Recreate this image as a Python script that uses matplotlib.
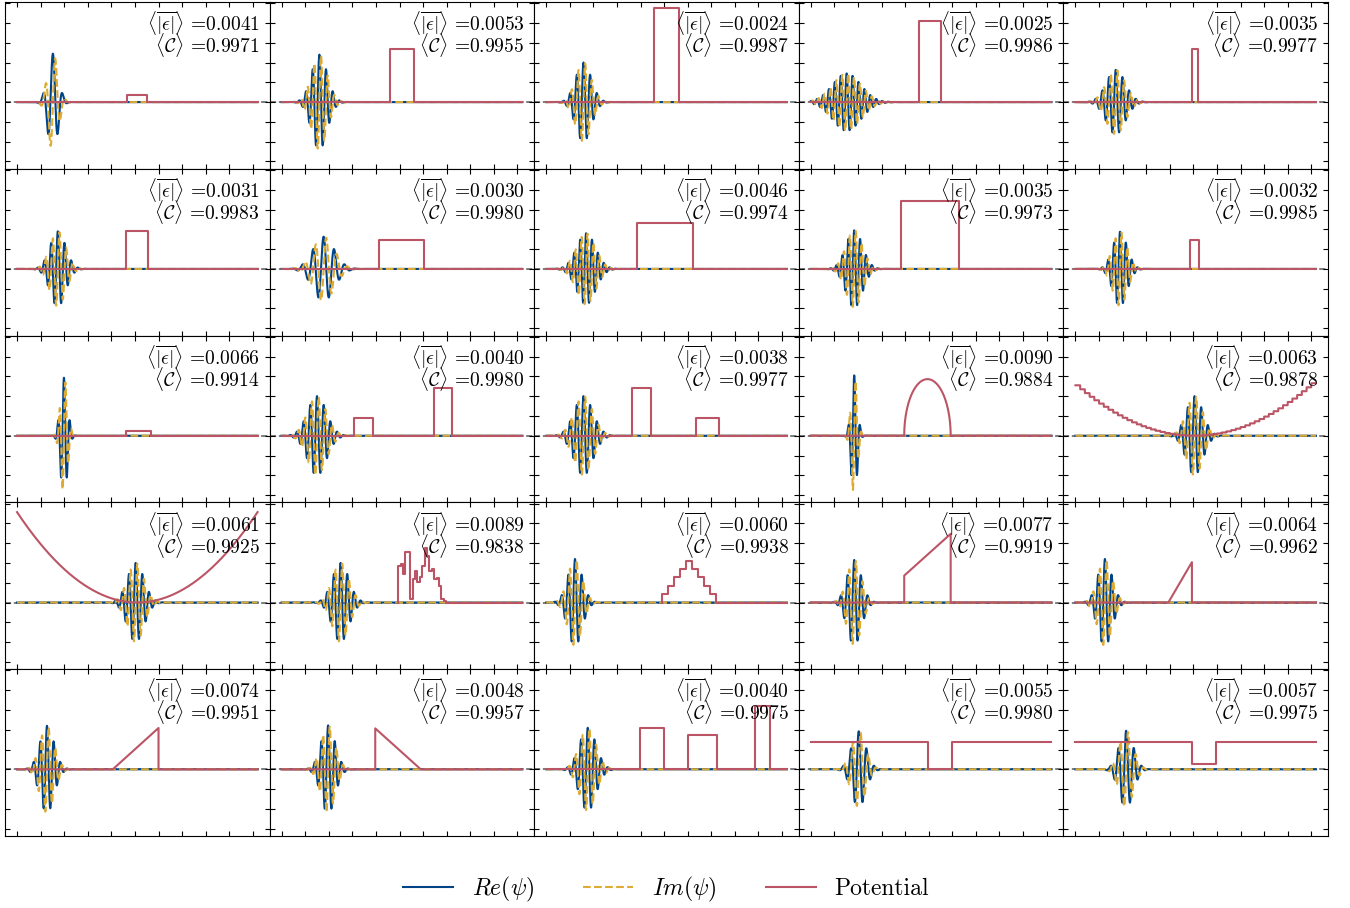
import numpy as np
import matplotlib.pyplot as plt
from matplotlib.ticker import MultipleLocator
from matplotlib.lines import Line2D

plt.rcParams['mathtext.fontset'] = 'cm'
plt.rcParams['font.family'] = 'cmr10'
plt.rcParams['axes.formatter.use_mathtext'] = True

L = 10.2  # domain length

# annotation values, row by row
eps_mean = [0.0041, 0.0053, 0.0024, 0.0025, 0.0035,
            0.0031, 0.0030, 0.0046, 0.0035, 0.0032,
            0.0066, 0.0040, 0.0038, 0.0090, 0.0063,
            0.0061, 0.0089, 0.0060, 0.0077, 0.0064,
            0.0074, 0.0048, 0.0040, 0.0055, 0.0057]
corr_mean = [0.9971, 0.9955, 0.9987, 0.9986, 0.9977,
             0.9983, 0.9980, 0.9974, 0.9973, 0.9985,
             0.9914, 0.9980, 0.9977, 0.9884, 0.9878,
             0.9925, 0.9838, 0.9938, 0.9919, 0.9962,
             0.9951, 0.9957, 0.9975, 0.9980, 0.9975]

# wave packet: centre, width, wavenumber, amplitude
pkt_x0 = [1.52, 1.60, 1.58, 1.52, 1.71,
          1.73, 1.78, 1.69, 1.84, 1.89,
          1.99, 1.50, 1.58, 1.84, 5.05,
          5.03, 2.50, 1.22, 1.84, 1.25,
          1.27, 1.97, 1.76, 2.03, 2.15]
pkt_sig = [0.22, 0.33, 0.33, 0.60, 0.40,
           0.33, 0.45, 0.40, 0.35, 0.30,
           0.15, 0.40, 0.40, 0.13, 0.35,
           0.35, 0.35, 0.30, 0.30, 0.30,
           0.30, 0.30, 0.35, 0.30, 0.30]
pkt_k = [15, 22, 22, 25, 22,
         22, 14, 25, 25, 25,
         25, 22, 22, 25, 22,
         22, 22, 22, 22, 22,
         22, 22, 22, 19, 19]
pkt_amp = [2.45, 2.40, 2.00, 1.45, 1.63,
           1.90, 1.63, 1.80, 1.95, 1.88,
           2.93, 2.00, 2.00, 3.05, 2.00,
           2.00, 2.00, 2.20, 2.15, 2.20,
           2.20, 2.22, 2.10, 1.92, 1.95]

# rectangular barriers (start, end, height) on a floor level
boxes = {
    0: [(4.68, 5.50, 0.34)],
    1: [(4.58, 5.60, 2.66)],
    2: [(4.56, 5.63, 4.74)],
    3: [(4.57, 5.53, 4.11)],
    4: [(4.94, 5.19, 2.66)],
    5: [(4.60, 5.57, 1.92)],
    6: [(4.15, 6.02, 1.44)],
    7: [(3.84, 6.24, 2.31)],
    8: [(3.82, 6.30, 3.44)],
    9: [(4.84, 5.23, 1.46)],
    10: [(4.60, 5.68, 0.22)],
    11: [(3.07, 3.86, 0.89), (6.44, 7.24, 2.39)],
    12: [(3.63, 4.45, 2.39), (6.35, 7.32, 0.89)],
    22: [(3.98, 4.99, 2.09), (6.00, 7.25, 1.75), (8.86, 9.47, 3.19)],
}
# wells in a raised floor (start, end, floor, well level)
wells = {
    23: (4.98, 5.98, 1.38, 0.0),
    24: (4.96, 5.96, 1.38, 0.28),
}
# ramps as vertex lists
ramps = {
    18: ([0, 3.96, 3.96, 5.93, 5.93, L], [0, 0, 1.36, 3.47, 0, 0]),
    19: ([0, 3.94, 4.94, 4.94, L], [0, 0, 2.04, 0, 0]),
    20: ([0, 4.06, 6.00, 6.00, L], [0, 0, 2.09, 0, 0]),
    21: ([0, 3.97, 3.97, 5.90, L], [0, 0, 2.07, 0, 0]),
}
# disordered barrier (panel 17) and staircase pyramid (panel 18)
rand_edges = (4.94, 6.98)
rand_levels = [1.86, 1.95, 1.44, 2.57, 2.54, 0.17, 1.18, 1.61, 1.02, 1.27,
               1.86, 2.74, 2.37, 1.61, 1.69, 1.18, 1.22, 0.85, 0.17, 0.08]
pyr_edges = (4.92, 7.21)
pyr_levels = [0.42, 0.85, 1.27, 1.69, 2.12, 1.69, 1.27, 0.85, 0.42]
# harmonic traps: centre, curvature, step width (0 = smooth)
harm = {14: (5.05, 0.104, 0.2), 15: (5.10, 0.1757, 0.0)}
# half-ellipse dome: start, end, height
dome = {13: (3.96, 5.93, 2.86)}

c_re, c_im, c_v = '#004488', '#DDAA33', '#BB5566'


def steps_to_xy(edges, levels):
    e = np.linspace(edges[0], edges[1], len(levels) + 1)
    xs, ys = [0.0], [0.0]
    for i, h in enumerate(levels):
        xs += [e[i], e[i + 1]]
        ys += [h, h]
    xs += [e[-1], e[-1], L]
    ys += [levels[-1], 0.0, 0.0]
    # vertical risers
    vx, vy = [0.0], [0.0]
    for i in range(1, len(xs)):
        vx += [xs[i], xs[i]]
        vy += [vy[-1], ys[i]]
    return vx[1:], vy[1:]


def potential(i, x):
    if i in boxes:
        xs, ys = [0.0], [0.0]
        for a, b, h in boxes[i]:
            xs += [a, a, b, b]
            ys += [0, h, h, 0]
        return xs + [L], ys + [0.0]
    if i in wells:
        a, b, fl, lo = wells[i]
        return [0, a, a, b, b, L], [fl, fl, lo, lo, fl, fl]
    if i in ramps:
        return ramps[i]
    if i == 16:
        return steps_to_xy(rand_edges, rand_levels)
    if i == 17:
        return steps_to_xy(pyr_edges, pyr_levels)
    if i in harm:
        x0, c, st = harm[i]
        if st > 0:
            xq = (np.floor(x / st) + 0.5) * st
            return x, c * (xq - x0) ** 2
        return x, c * (x - x0) ** 2
    if i in dome:
        a, b, h = dome[i]
        m, r = (a + b) / 2, (b - a) / 2
        v = np.where(np.abs(x - m) <= r, h * np.sqrt(np.clip(1 - ((x - m) / r) ** 2, 0, 1)), 0)
        return x, v
    return [0, L], [0, 0]


x = np.linspace(0, L, 4000)

fig, axes = plt.subplots(5, 5, figsize=(13.5, 9.08), dpi=100, sharex=True, sharey=True)
fig.subplots_adjust(left=5 / 1350, right=1328 / 1350, top=1 - 2 / 908, bottom=1 - 836 / 908,
                    wspace=0, hspace=0)

for i, ax in enumerate(axes.flat):
    env = pkt_amp[i] * np.exp(-(x - pkt_x0[i]) ** 2 / (2 * pkt_sig[i] ** 2))
    ph = pkt_k[i] * (x - pkt_x0[i])
    ax.axhline(0, color='0.4', lw=1.2, ls='--', zorder=0)
    ax.plot(x, env * np.cos(ph), color=c_re, lw=1.5)
    ax.plot(x, env * np.sin(ph), color=c_im, lw=1.5, ls='--')
    vx, vy = potential(i, x)
    ax.plot(vx, vy, color=c_v, lw=1.5)

    ax.text(0.963, 0.828, r'$\langle\overline{|\epsilon|}\rangle$ =' + f'{eps_mean[i]:.4f}',
            transform=ax.transAxes, ha='right', va='baseline', fontsize=14)
    ax.text(0.963, 0.696, r'$\langle\mathcal{C}\rangle$ =' + f'{corr_mean[i]:.4f}',
            transform=ax.transAxes, ha='right', va='baseline', fontsize=14)

    ax.set_xlim(-0.05 * L, 1.05 * L)
    ax.set_ylim(-3.37, 5.06)
    ax.xaxis.set_major_locator(MultipleLocator(1))
    ax.yaxis.set_major_locator(MultipleLocator(1))
    ax.tick_params(direction='in', top=True, right=True, length=3.5, width=0.8,
                   labelbottom=False, labelleft=False)

handles = [Line2D([], [], color=c_re, lw=1.5),
           Line2D([], [], color=c_im, lw=1.5, ls='--'),
           Line2D([], [], color=c_v, lw=1.5)]
fig.legend(handles, [r'$Re(\psi)$', r'$Im(\psi)$', 'Potential'], loc='center',
           bbox_to_anchor=(666 / 1350, 1 - 889 / 908), ncol=3, frameon=False,
           fontsize=17, handlelength=2.1, handletextpad=0.8, columnspacing=2.1)

fig.savefig('out.png', dpi=100)
